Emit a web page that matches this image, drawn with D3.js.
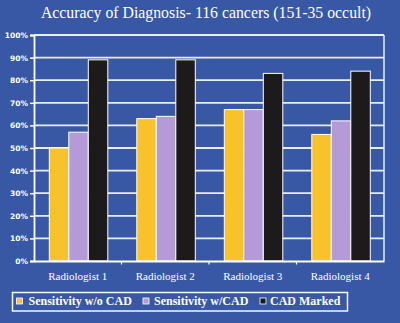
<!DOCTYPE html>
<html>
<head>
<meta charset="utf-8">
<script src="https://cdn.jsdelivr.net/npm/d3@7"></script>
<style>
  html, body { margin: 0; padding: 0; background: #3858a6; }
  svg { display: block; }
</style>
</head>
<body>
<script>
// Chart data
const categories = ["Radiologist 1", "Radiologist 2", "Radiologist 3", "Radiologist 4"];
const seriesNames = ["Sensitivity w/o CAD", "Sensitivity w/CAD", "CAD Marked"];
const sensitivityWithoutCAD = [50, 63, 67, 56];
const sensitivityWithCAD = [57, 64, 67, 62];
const cadMarked = [89, 89, 83, 84];
const yTicks = [0, 10, 20, 30, 40, 50, 60, 70, 80, 90, 100];
const titleText = "Accuracy of Diagnosis- 116 cancers (151-35 occult)";

const seriesValues = [sensitivityWithoutCAD, sensitivityWithCAD, cadMarked];
const colors = ["#f8c22c", "#b49bd8", "#1c1a1a"];

const W = 400, H = 323;
const svg = d3.select("body").append("svg").attr("width", W).attr("height", H);

svg.append("rect").attr("width", W).attr("height", H).attr("fill", "#3858a6");

const plotLeft = 34, plotRight = 384, plotTop = 35, plotBottom = 261;

const x0 = d3.scaleBand().domain(categories).range([plotLeft, plotRight]).padding(0);
const x1 = d3.scaleBand().domain(seriesNames).range([15.3, 73.8]).padding(0);
const y = d3.scaleLinear().domain([0, 100]).range([plotBottom, plotTop]);

const serif = "'Liberation Serif', 'Times New Roman', serif";

// Title
svg.append("text")
  .attr("x", 206).attr("y", 18)
  .attr("text-anchor", "middle")
  .attr("fill", "#ffffff")
  .style("font-family", serif)
  .style("font-size", "15.8px")
  .text(titleText);

// Gridlines
svg.append("g").selectAll("line").data(yTicks.filter(d => d > 0)).join("line")
  .attr("x1", plotLeft).attr("x2", plotRight)
  .attr("y1", d => y(d)).attr("y2", d => y(d))
  .attr("stroke", "#e6eefc").attr("stroke-width", 1.8);

// Right frame
svg.append("line")
  .attr("x1", plotRight).attr("x2", plotRight).attr("y1", plotTop).attr("y2", plotBottom)
  .attr("stroke", "#e6eefc").attr("stroke-width", 1.5);

// Bars
const rows = categories.map((c, i) => ({ cat: c, vals: seriesNames.map((s, j) => ({ s, j, v: seriesValues[j][i] })) }));
const groups = svg.append("g").selectAll("g").data(rows).join("g")
  .attr("transform", d => `translate(${x0(d.cat)},0)`);
groups.selectAll("rect").data(d => d.vals).join("rect")
  .attr("x", d => x1(d.s))
  .attr("width", x1.bandwidth())
  .attr("y", d => y(d.v))
  .attr("height", d => y(0) - y(d.v))
  .attr("fill", d => colors[d.j])
  .attr("stroke", "#ffffff").attr("stroke-width", 1);

// Y axis
const yAxis = d3.axisLeft(y).tickValues(yTicks).tickFormat(d => d + "%").tickSize(4).tickPadding(2);
const gy = svg.append("g").attr("transform", `translate(${plotLeft},0)`).call(yAxis);
gy.select(".domain").attr("stroke", "#ffffff").attr("stroke-width", 1.8);
gy.selectAll(".tick line").attr("stroke", "#ffffff").attr("stroke-width", 1.5);
gy.selectAll(".tick text")
  .attr("fill", "#ffffff")
  .style("font-family", "'DejaVu Sans', Verdana, sans-serif")
  .style("font-weight", "bold")
  .style("font-size", "7.5px");

// X axis
const xAxis = d3.axisBottom(x0).tickSize(0).tickPadding(11);
const gx = svg.append("g").attr("transform", `translate(0,${plotBottom})`).call(xAxis);
gx.select(".domain").attr("stroke", "#ffffff").attr("stroke-width", 1.8);
gx.selectAll(".tick text")
  .attr("fill", "#ffffff")
  .style("font-family", serif)
  .style("font-size", "11px");
// Separators between categories
gx.append("g").selectAll("line").data(categories.slice(1)).join("line")
  .attr("x1", d => x0(d)).attr("x2", d => x0(d))
  .attr("y1", 0).attr("y2", 3.5)
  .attr("stroke", "#ffffff").attr("stroke-width", 1.2);

// Legend
const legend = svg.append("g");
legend.append("rect")
  .attr("x", 12.5).attr("y", 292.5).attr("width", 335).attr("height", 18.5)
  .attr("fill", "none").attr("stroke", "#f4f6ff").attr("stroke-width", 1.5);
const legendPos = [{ sx: 16.5, tx: 28.5 }, { sx: 143, tx: 154 }, { sx: 260, tx: 270 }];
seriesNames.forEach((name, j) => {
  legend.append("rect")
    .attr("x", legendPos[j].sx).attr("y", 298).attr("width", 6).attr("height", 6)
    .attr("fill", colors[j]).attr("stroke", "#ffffff").attr("stroke-width", 0.8);
  legend.append("text")
    .attr("x", legendPos[j].tx).attr("y", 305)
    .attr("fill", "#ffffff")
    .style("font-family", serif)
    .style("font-weight", "bold")
    .style("font-size", "12px")
    .text(name);
});
</script>
</body>
</html>
